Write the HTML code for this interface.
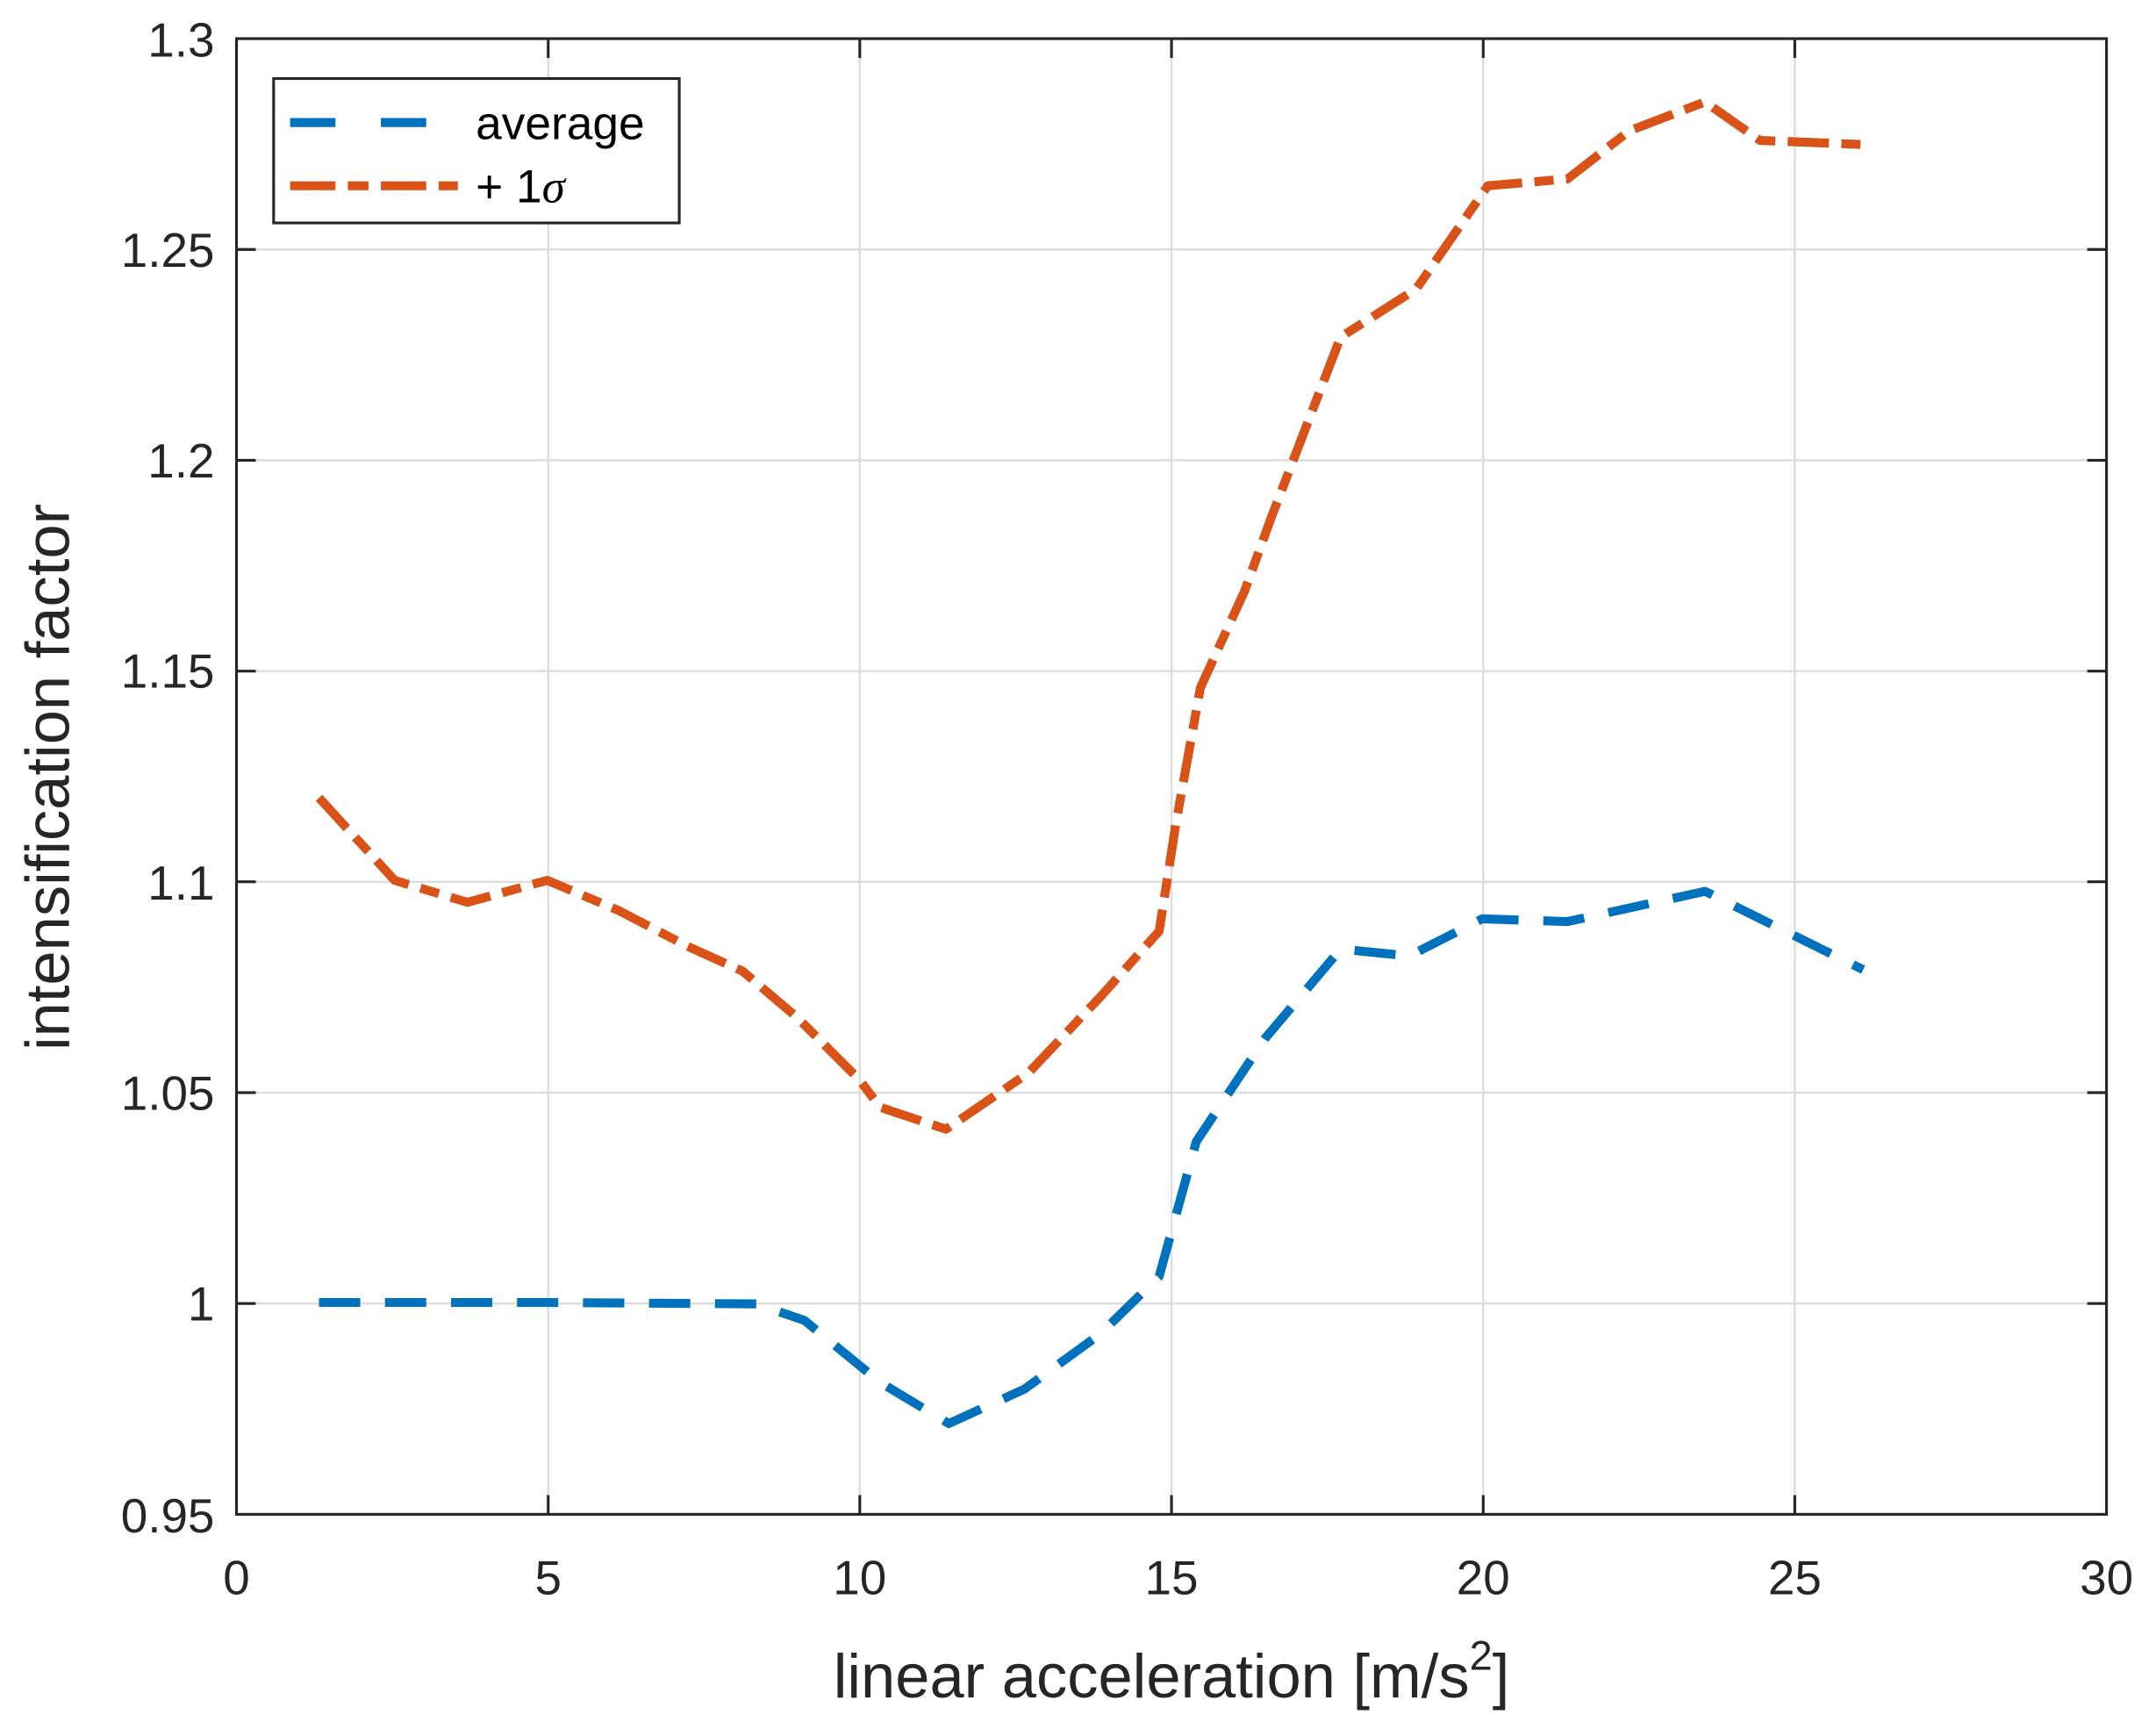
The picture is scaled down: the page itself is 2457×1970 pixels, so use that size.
<!DOCTYPE html>
<html><head><meta charset="utf-8"><style>html,body{margin:0;padding:0;background:#fff}svg{display:block}</style></head>
<body>
<svg width="2457" height="1970" viewBox="0 0 1568 1257" xmlns="http://www.w3.org/2000/svg" font-family="Liberation Sans, Arial, sans-serif">
<rect width="1568" height="1257" fill="#fff"/>
<g stroke="#dcdcdc" stroke-width="1.5">
<line x1="398.7" y1="28" x2="398.7" y2="1101"/><line x1="625.3" y1="28" x2="625.3" y2="1101"/><line x1="852" y1="28" x2="852" y2="1101"/><line x1="1078.7" y1="28" x2="1078.7" y2="1101"/><line x1="1305.3" y1="28" x2="1305.3" y2="1101"/>
<line x1="172" y1="181.3" x2="1532" y2="181.3"/><line x1="172" y1="334.6" x2="1532" y2="334.6"/><line x1="172" y1="487.9" x2="1532" y2="487.9"/><line x1="172" y1="641.1" x2="1532" y2="641.1"/><line x1="172" y1="794.4" x2="1532" y2="794.4"/><line x1="172" y1="947.7" x2="1532" y2="947.7"/>
</g>
<g fill="none" stroke-linejoin="round" stroke-width="6.5">
<polyline stroke="#0072BD" stroke-dasharray="30 18" points="232,947 400,947 550,948 585,960 640,1005 690,1035 745,1010 800,970 843,928 870,830 920,755 975,690 1025,695 1078,668 1140,670 1240,648 1355,705"/>
<polyline stroke="#D95319" stroke-dasharray="30 9 14 9" points="232,580 287,640 340,656 398,640 450,662 500,688 540,706 580,740 625,785 640,805 688,821 748,780 800,725 843,677 855,600 873,500 905,430 925,375 975,245 1030,210 1082,135 1140,130 1185,95 1240,74 1280,102 1355,105"/>
</g>
<g stroke="#262626" stroke-width="2">
<rect x="172" y="28" width="1360" height="1073" fill="none"/>
<path d="M398.7 1101v-14M625.3 1101v-14M852 1101v-14M1078.7 1101v-14M1305.3 1101v-14M398.7 28v14M625.3 28v14M852 28v14M1078.7 28v14M1305.3 28v14"/>
<path d="M172 181.3h14M172 334.6h14M172 487.9h14M172 641.1h14M172 794.4h14M172 947.7h14M1532 181.3h-14M1532 334.6h-14M1532 487.9h-14M1532 641.1h-14M1532 794.4h-14M1532 947.7h-14"/>
</g>
<g fill="#262626" font-size="35" text-anchor="middle">
<text x="172" y="1159">0</text><text x="398.7" y="1159">5</text><text x="625.3" y="1159">10</text><text x="852" y="1159">15</text><text x="1078.7" y="1159">20</text><text x="1305.3" y="1159">25</text><text x="1532" y="1159">30</text>
</g>
<g fill="#262626" font-size="35" text-anchor="end">
<text x="156" y="41">1.3</text><text x="156" y="194">1.25</text><text x="156" y="347">1.2</text><text x="156" y="500">1.15</text><text x="156" y="654">1.1</text><text x="156" y="807">1.05</text><text x="156" y="960">1</text><text x="156" y="1114">0.95</text>
</g>
<text x="852" y="1234" font-size="45" fill="#262626" text-anchor="middle">linear acceleration [m/s<tspan font-size="30" dy="-20">2</tspan><tspan dy="20">]</tspan></text>
<text transform="translate(50 565) rotate(-90)" font-size="45" fill="#262626" text-anchor="middle">intensification factor</text>
<rect x="199" y="57" width="295" height="105" fill="#fff" stroke="#262626" stroke-width="2"/>
<line x1="211" y1="89" x2="333" y2="89" stroke="#0072BD" stroke-width="6.5" stroke-dasharray="33 33"/>
<line x1="211" y1="135" x2="333" y2="135" stroke="#D95319" stroke-width="6.5" stroke-dasharray="33 9 15 9"/>
<text x="346" y="101" font-size="34" fill="#000">average</text>
<text x="346" y="147" font-size="34" fill="#000">+ 1<tspan font-family="Liberation Serif, serif" font-style="italic">σ</tspan></text>
</svg>
</body></html>
